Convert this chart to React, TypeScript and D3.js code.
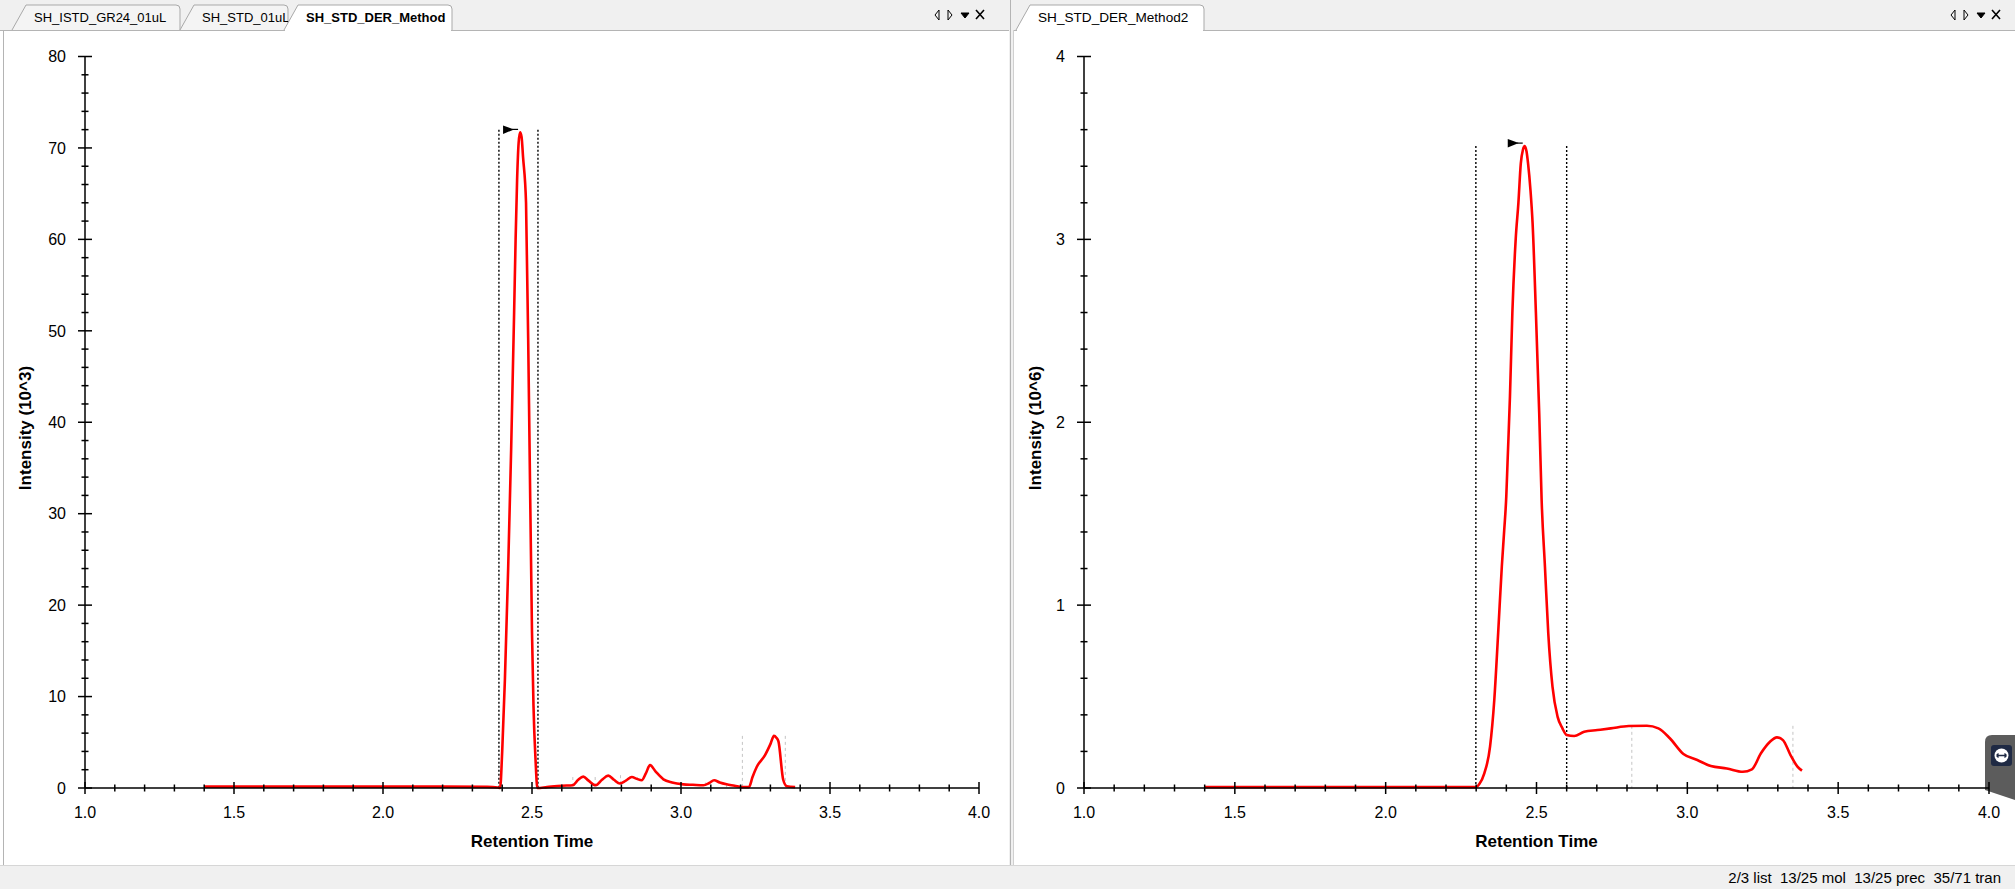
import React from "react";
import * as d3 from "d3";

// ---------- data ----------
const leftTabs = ["SH_ISTD_GR24_01uL", "SH_STD_01uL", "SH_STD_DER_Method"];
const rightTabs = ["SH_STD_DER_Method2"];
const statusText = "2/3 list  13/25 mol  13/25 prec  35/71 tran";

const xTickLabels = ["1.0", "1.5", "2.0", "2.5", "3.0", "3.5", "4.0"];
const leftYTicks = [0, 10, 20, 30, 40, 50, 60, 70, 80];
const rightYTicks = [0, 1, 2, 3, 4];

// left chromatogram (Intensity 10^3)
const leftRT = [1.4, 1.6, 1.8, 2.0, 2.2, 2.35, 2.385, 2.393, 2.4, 2.409, 2.42, 2.43, 2.44, 2.445, 2.45, 2.455, 2.46, 2.465, 2.47, 2.48, 2.49, 2.5, 2.505, 2.512, 2.518, 2.55, 2.6, 2.637, 2.655, 2.672, 2.69, 2.714, 2.735, 2.756, 2.775, 2.795, 2.815, 2.835, 2.852, 2.868, 2.882, 2.896, 2.915, 2.941, 2.97, 3.008, 3.04, 3.075, 3.095, 3.111, 3.13, 3.153, 3.18, 3.204, 3.228, 3.24, 3.254, 3.282, 3.3, 3.312, 3.32, 3.327, 3.343, 3.355, 3.383];
const leftIntensity = [0.15, 0.15, 0.15, 0.15, 0.15, 0.12, 0.05, 0, 4, 11.8, 24, 37, 52, 60, 66.5, 70.5, 71.7, 71.2, 69, 64, 42, 17, 9, 3, 0, 0.1, 0.25, 0.3, 0.9, 1.24, 0.8, 0.3, 0.9, 1.35, 0.9, 0.5, 0.8, 1.2, 1.0, 0.85, 1.6, 2.5, 1.8, 0.95, 0.6, 0.4, 0.35, 0.3, 0.55, 0.85, 0.6, 0.4, 0.25, 0.1, 0.1, 1.2, 2.3, 3.6, 4.8, 5.7, 5.5, 5.1, 0.9, 0.2, 0.1];
const leftBounds = [2.389, 2.52];
const leftBoundTop = 72;
const leftApex = [2.46, 71.7];
const leftMinorPeaks = [[2.637, 1.2], [2.712, 1.2], [2.797, 1.4], [3.083, 0.6], [3.153, 0.4], [3.206, 5.7], [3.35, 5.7]];

// right chromatogram (Intensity 10^6)
const rightRT = [1.4, 1.6, 1.8, 2.0, 2.2, 2.3, 2.31, 2.327, 2.346, 2.36, 2.373, 2.385, 2.393, 2.4, 2.404, 2.412, 2.42, 2.431, 2.44, 2.448, 2.455, 2.461, 2.467, 2.472, 2.48, 2.487, 2.498, 2.509, 2.517, 2.528, 2.539, 2.553, 2.57, 2.586, 2.6, 2.625, 2.658, 2.702, 2.746, 2.806, 2.866, 2.904, 2.942, 2.987, 3.033, 3.078, 3.131, 3.184, 3.214, 3.244, 3.274, 3.297, 3.317, 3.342, 3.365, 3.38];
const rightIntensity = [0.005, 0.005, 0.005, 0.005, 0.005, 0.005, 0.02, 0.08, 0.226, 0.48, 0.85, 1.21, 1.41, 1.6, 1.78, 2.14, 2.6, 3.0, 3.2, 3.415, 3.49, 3.51, 3.48, 3.415, 3.27, 3.09, 2.6, 2.05, 1.575, 1.21, 0.846, 0.554, 0.389, 0.326, 0.29, 0.284, 0.308, 0.317, 0.326, 0.339, 0.34, 0.326, 0.272, 0.186, 0.153, 0.12, 0.107, 0.089, 0.102, 0.19, 0.253, 0.277, 0.262, 0.18, 0.117, 0.095];
const rightBounds = [2.299, 2.6];
const rightBoundTop = 3.51;
const rightApex = [2.461, 3.51];
const rightMinorPeaks = [[2.816, 0.34], [3.35, 0.34]];

const FONT = "'Liberation Sans', Arial, sans-serif";

type PanelProps = {
  xRange: [number, number];
  yDomain: [number, number];
  yMajor: number[];
  yMinorStep: number;
  rt: number[];
  inten: number[];
  bounds: number[];
  boundTop: number;
  apex: number[];
  minor: number[][];
  yTitle: string;
  yTitleX: number;
  xAxisEnd: number;
};

function Panel(p: PanelProps) {
  const x = d3.scaleLinear().domain([1, 4]).range(p.xRange);
  const y = d3.scaleLinear().domain(p.yDomain).range([788, 56.5]);
  const line = d3
    .line<number>()
    .x((_, i) => x(p.rt[i]))
    .y((v) => y(v))
    .curve(d3.curveMonotoneX);
  const xMinor = d3.range(10, 41).map((d) => d / 10);
  const yMinorCount = Math.round((p.yDomain[1] - p.yDomain[0]) / p.yMinorStep);
  const yMinor = d3.range(0, yMinorCount + 1).map((i) => p.yDomain[0] + i * p.yMinorStep);
  const x0 = p.xRange[0];
  const xMid = (p.xRange[0] + p.xRange[1]) / 2;
  const ax = x(p.apex[0]);
  const ay = y(p.apex[1]);
  return (
    <g>
      {p.minor.map((m, i) => (
        <line key={"m" + i} x1={x(m[0])} x2={x(m[0])} y1={y(m[1])} y2={788} stroke="#c4c4c4" strokeWidth={1} strokeDasharray="3,3" />
      ))}
      {p.bounds.map((b, i) => (
        <line key={"b" + i} x1={x(b)} x2={x(b)} y1={y(p.boundTop)} y2={788} stroke="#000" strokeWidth={1.4} strokeDasharray="2,2" />
      ))}
      <path d={line(p.inten) || ""} fill="none" stroke="#ff0000" strokeWidth={2.6} strokeLinejoin="round" />
      <line x1={x0} x2={x0} y1={y(p.yDomain[1])} y2={788} stroke="#000" strokeWidth={1.5} />
      <line x1={x0} x2={p.xAxisEnd} y1={788} y2={788} stroke="#000" strokeWidth={1.5} />
      {xMinor.map((t, i) => {
        const major = i % 5 === 0;
        return (
          <line key={"xt" + i} x1={x(t)} x2={x(t)} y1={788 - (major ? 6 : 3.5)} y2={788 + (major ? 6 : 3.5)} stroke="#000" strokeWidth={1.5} />
        );
      })}
      {yMinor.map((v, i) => {
        const major = p.yMajor.some((m) => Math.abs(m - v) < 1e-9);
        return (
          <line key={"yt" + i} x1={x0 - (major ? 7 : 3.5)} x2={x0 + (major ? 7 : 3.5)} y1={y(v)} y2={y(v)} stroke="#000" strokeWidth={1.5} />
        );
      })}
      {xTickLabels.map((l) => (
        <text key={"xl" + l} x={x(+l)} y={818} textAnchor="middle" fontFamily={FONT} fontSize={16} fill="#000">
          {l}
        </text>
      ))}
      {p.yMajor.map((v) => (
        <text key={"yl" + v} x={x0 - 19} y={y(v)} dy="0.36em" textAnchor="end" fontFamily={FONT} fontSize={16} fill="#000">
          {v}
        </text>
      ))}
      <text x={xMid} y={847} textAnchor="middle" fontFamily={FONT} fontSize={17} fontWeight="bold" fill="#000">
        Retention Time
      </text>
      <text
        transform={`translate(${p.yTitleX},428) rotate(-90)`}
        textAnchor="middle"
        dy="0.35em"
        fontFamily={FONT}
        fontSize={17}
        fontWeight="bold"
        fill="#000"
      >
        {p.yTitle}
      </text>
      <path d={`M${ax - 17},${ay - 7} L${ax - 6},${ay - 3} L${ax - 17},${ay + 1.5} Z`} fill="#000" />
      <line x1={ax - 8} x2={ax - 2} y1={ay - 3} y2={ay - 3} stroke="#000" strokeWidth={1.2} />
    </g>
  );
}

function Tab({ x0, x1, label, active, bold, fontSize }: { x0: number; x1: number; label: string; active: boolean; bold?: boolean; fontSize: number }) {
  const d = `M${x0},30 L${x0 + 14},5 L${x1 - 4},5 Q${x1},5 ${x1},9 L${x1},30`;
  return (
    <g>
      <path d={d} fill={active ? "#ffffff" : "#f4f4f4"} stroke="#a9a9a9" strokeWidth={1} />
      <text x={x0 + 22} y={22} fontFamily={FONT} fontSize={fontSize} fontWeight={bold ? "bold" : "normal"} fill="#000">
        {label}
      </text>
    </g>
  );
}

function Controls({ x }: { x: number }) {
  return (
    <g stroke="#000" fill="none" strokeWidth={1}>
      <path d={`M${x + 5},10 L${x + 1},15 L${x + 5},20 Z`} />
      <path d={`M${x + 14},10 L${x + 18},15 L${x + 14},20 Z`} />
      <path d={`M${x + 27},13 L${x + 35},13 L${x + 31},18 Z`} fill="#000" />
      <path d={`M${x + 42},10 L${x + 50},19 M${x + 50},10 L${x + 42},19`} strokeWidth={1.6} />
    </g>
  );
}

export default function App() {
  return (
    <div style={{ position: "fixed", left: 0, top: 0 }}>
      <svg width={2015} height={889} style={{ display: "block" }}>
        <rect x={0} y={0} width={2015} height={889} fill="#ffffff" />
        <rect x={0} y={0} width={2015} height={30} fill="#f0f0f0" />
        <line x1={0} x2={2015} y1={30.5} y2={30.5} stroke="#b4b4b4" />
        <Tab x0={12} x1={180} label={leftTabs[0]} active={false} fontSize={13} />
        <Tab x0={180} x1={288} label={leftTabs[1]} active={false} fontSize={13} />
        <Tab x0={284} x1={452} label={leftTabs[2]} active={true} bold fontSize={13} />
        <rect x={285} y={29} width={166} height={3} fill="#ffffff" />
        <Tab x0={1016} x1={1204} label={rightTabs[0]} active={true} fontSize={13.6} />
        <rect x={1017} y={29} width={186} height={3} fill="#ffffff" />
        <Controls x={934} />
        <Controls x={1950} />
        <line x1={3.5} x2={3.5} y1={30} y2={865} stroke="#b4b4b4" />
        <rect x={1009} y={0} width={4} height={865} fill="#f0f0f0" />
        <line x1={1010.5} x2={1010.5} y1={0} y2={865} stroke="#b4b4b4" />
        <line x1={1013.5} x2={1013.5} y1={30} y2={865} stroke="#d0d0d0" />
        <rect x={0} y={865} width={2015} height={24} fill="#f0f0f0" />
        <line x1={0} x2={2015} y1={865.5} y2={865.5} stroke="#d6d6d6" />
        <text x={2001} y={883} textAnchor="end" fontFamily={FONT} fontSize={15} fill="#000" style={{ whiteSpace: "pre" }}>
          {statusText}
        </text>

        <Panel
          xRange={[85, 979]}
          yDomain={[0, 80]}
          yMajor={leftYTicks}
          yMinorStep={2}
          rt={leftRT}
          inten={leftIntensity}
          bounds={leftBounds}
          boundTop={leftBoundTop}
          apex={leftApex}
          minor={leftMinorPeaks}
          yTitle="Intensity (10^3)"
          yTitleX={25}
          xAxisEnd={979}
        />
        {/* side widget (drawn before right panel so the 4.0 label stays on top) */}
        <path d="M1985,742 Q1985,735 1992,735 L2015,735 L2015,800 L1985,790 Z" fill="#5c5c5c" />
        <rect x={1991} y={745} width={21} height={21} rx={3} fill="#1f2a44" />
        <circle cx={2001.5} cy={755.5} r={7} fill="#ffffff" />
        <path d="M1996.5,755.5 L2006.5,755.5 M1996.5,755.5 L1998.5,753.5 M1996.5,755.5 L1998.5,757.5 M2006.5,755.5 L2004.5,753.5 M2006.5,755.5 L2004.5,757.5" stroke="#1f2a44" strokeWidth={1.3} fill="none" />
        <Panel
          xRange={[1084, 1989]}
          yDomain={[0, 4]}
          yMajor={rightYTicks}
          yMinorStep={0.2}
          rt={rightRT}
          inten={rightIntensity}
          bounds={rightBounds}
          boundTop={rightBoundTop}
          apex={rightApex}
          minor={rightMinorPeaks}
          yTitle="Intensity (10^6)"
          yTitleX={1035}
          xAxisEnd={1989}
        />
      </svg>
    </div>
  );
}
